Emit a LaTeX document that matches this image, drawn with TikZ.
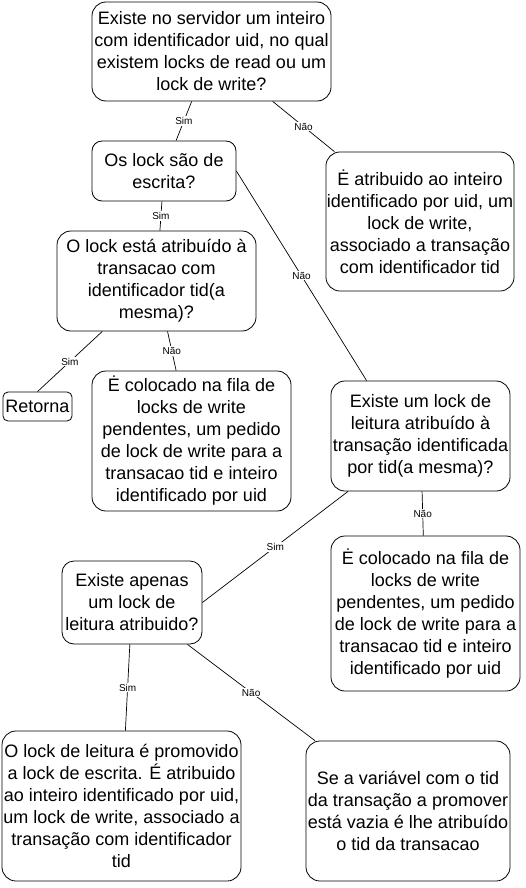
\documentclass[tikz,border=0pt]{standalone}
\usepackage{fontspec}
\setmainfont{Liberation Sans}
\usetikzlibrary{calc}

\begin{document}
\begin{tikzpicture}[
    x=1pt, y=-1pt,
    box/.style={draw, rounded corners=14pt, line width=0.8pt, align=center, inner sep=1pt, font=\fontsize{18}{22}\selectfont},
    lbl/.style={fill=white, inner sep=1pt, font=\fontsize{10}{12}\selectfont},
    link/.style={line width=0.7pt}
  ]
    \useasboundingbox (0,0) rectangle (525,888);
    % perguntas e respostas
    \node[box, minimum width=239pt, minimum height=99pt] (q1) at (211.5,51.5) {Existe no servidor um inteiro\\com identificador uid, no qual\\existem locks de read ou um\\lock de write?};
    \node[box, rounded corners=10pt, minimum width=144pt, minimum height=60pt] (q2) at (164,171) {Os lock são de\\escrita?};
    \node[box, minimum width=199pt, minimum height=100pt] (q3) at (156.5,281) {O lock está atribuído à\\transacao com\\identificador tid(a\\mesma)?};
    \node[box, minimum width=188pt, minimum height=139pt] (a1) at (420,221.5) {Ė atribuido ao inteiro\\identificado por uid, um\\lock de write,\\associado a transação\\com identificador tid};
    \node[box, rounded corners=5pt, minimum width=69pt, minimum height=29pt] (ret) at (37.5,406.5) {Retorna};
    \node[box, minimum width=199pt, minimum height=140pt] (a2) at (191.5,441) {Ė colocado na fila de\\locks de write\\pendentes, um pedido\\de lock de write para a\\transacao tid e inteiro\\identificado por uid};
    \node[box, minimum width=179pt, minimum height=110pt] (q4) at (420.5,436) {Existe um lock de\\leitura atribuído à\\transação identificada\\por tid(a mesma)?};
    \node[box, minimum width=189pt, minimum height=155pt] (a3) at (425.5,613.5) {Ė colocado na fila de\\locks de write\\pendentes, um pedido\\de lock de write para a\\transacao tid e inteiro\\identificado por uid};
    \node[box, rounded corners=12pt, minimum width=140pt, minimum height=83pt] (q5) at (132,602.5) {Existe apenas\\um lock de\\leitura atribuido?};
    \node[box, minimum width=239pt, minimum height=150pt] (a4) at (121.5,806) {O lock de leitura é promovido\\a lock de escrita. É atribuido\\ao inteiro identificado por uid,\\um lock de write, associado a\\transação com identificador\\tid};
    \node[box, minimum width=204pt, minimum height=140pt] (a5) at (408,811) {Se a variável com o tid\\da transação a promover\\está vazia é lhe atribuído\\o tid da transacao};
    % ligacoes
    \coordinate (q4in) at ($(q4.north west)+(36,0)$);
    \draw[link] (q1) -- node[lbl]{Sim} (q2);
    \draw[link] (q1) -- node[lbl]{Não} (a1);
    \draw[link] (q2) -- node[lbl]{Sim} (q3);
    \draw[link] (q2.east) -- node[lbl]{Não} (q4in);
    \draw[link] (q3) -- node[lbl]{Sim} (ret.north);
    \draw[link] (q3) -- node[lbl]{Não} (a2);
    \draw[link] (q4) -- node[lbl]{Sim} (q5.east);
    \draw[link] (q4) -- node[lbl]{Não} (a3);
    \draw[link] (q5) -- node[lbl]{Sim} (a4);
    \draw[link] (q5) -- node[lbl]{Não} (a5);
\end{tikzpicture}
\end{document}
